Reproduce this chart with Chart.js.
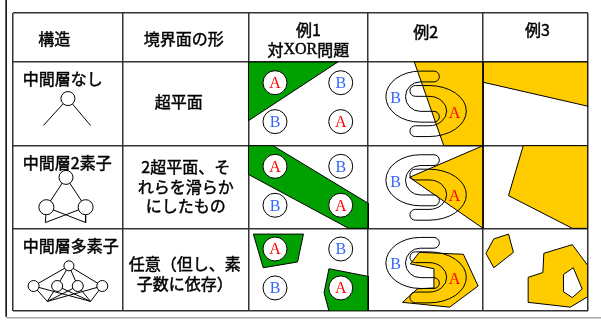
<!DOCTYPE html>
<html>
<head>
<meta charset="utf-8">
<script src="https://cdn.jsdelivr.net/npm/chart.js@4.4.1/dist/chart.umd.min.js"></script>
<style>
  html, body { margin: 0; padding: 0; background: #fff; }
  #wrap { width: 601px; height: 324px; }
</style>
</head>
<body>
<div id="wrap"><canvas id="chart" width="601" height="324"></canvas></div>
<script>
// table grid (column / row edges)
const colEdges = [8, 120, 248, 370, 487, 594];
const rowEdges = [5, 56, 143, 229, 315];

// texts
const headers = [['構造'], ['境界面の形'], ['例1', '対XOR問題'], ['例2'], ['例3']];
const structures = ['中間層なし', '中間層2素子', '中間層多素子'];
const boundaries = [['超平面'], ['2超平面、そ', 'れらを滑らか', 'にしたもの'], ['任意（但し、素', '子数に依存）']];

// XOR samples (same in each row, cell-local)
const xorLabels = ['A', 'B', 'B', 'A'];
const xorX = [27, 94, 27, 94];
const xorY = [21.5, 21.5, 62, 62];

// networks: output node, hidden nodes, input ends (cell-local, [x, y, r])
const netOutput = [[56, 38, 7], [54, 33, 7], [57, 39, 5]];
const netHidden = [[], [[34, 64, 7.5], [74, 64, 7.5]], [[21, 60, 5.5], [45, 60, 5.5], [66, 60, 5.5], [91, 60, 5.5]]];
const netInputs = [[[31, 66], [79, 66]], [[33, 80], [74, 80]], [[35, 76], [79, 76]]];

// decision regions (cell-local polygons)
const ex1Regions = [
  [[[0, 0], [91, 0], [0, 61]]],
  [[[0, 0], [25, 0], [122, 60], [122, 86], [102, 86], [0, 30]]],
  [[[5, 6], [56, 6], [50, 35], [15, 41]], [[82, 42], [122, 50], [122, 86], [82, 86], [77, 67]]]
];
const ex2Regions = [
  [[[47, 0], [117, 0], [117, 87], [77, 87]]],
  [[[42, 33], [117, 0], [117, 86]]],
  [[[43, 37], [52, 25], [97, 27], [112, 60], [83, 82], [35, 77], [50, 63], [67, 62], [67, 42]]]
];
const ex3Regions = [
  [[[0, 0], [107, 0], [107, 46], [0, 21]]],
  [[[41, 0], [107, 0], [107, 86], [91, 86], [26, 52]]],
  [[[3, 26], [11, 11], [26, 6], [31, 25], [11, 41]], [[46, 51], [61, 46], [62, 26], [91, 17], [107, 39], [107, 71], [89, 82], [46, 77]]]
];
const ex3Holes = [[], [], [[[82, 48], [92, 41], [101, 63], [91, 72], [82, 66]]]];

// horseshoe classes in 例2 (cell-local): B opens right, A opens left
const shoeLabels = ['B', 'A'];
const shoeCx = [53, 62];
const shoeCy = [36, 51];
const shoeOuter = [[35, 26], [38, 26]];
const shoeInner = [[15, 15], [18, 15]];
const shoeArm = [14, 14];
const shoeDir = [1, -1];
const shoeLabelX = [28, 88];
const shoeLabelY = [37, 52];

const GREEN = '#00a000';
const YELLOW = '#ffcc00';
const RED = '#ff0000';
const BLUE = '#3366ff';
const JP = '"Noto Sans CJK JP", "Noto Sans", sans-serif';
const SERIF = '"Liberation Serif", "DejaVu Serif", serif';

const datasets = [];

function addPolygon(points, col, row, color, order) {
  const ox = colEdges[col], oy = rowEdges[row + 1];
  const data = points.map(p => ({ x: ox + p[0], y: oy + p[1] }));
  data.push(data[0]);
  datasets.push({
    type: 'line', data, fill: 'shape', backgroundColor: color,
    borderColor: '#000', borderWidth: 1, pointRadius: 0, tension: 0, order
  });
}

function addEdge(a, b, col, row) {
  const ox = colEdges[col], oy = rowEdges[row + 1];
  datasets.push({
    type: 'line',
    data: [{ x: ox + a[0], y: oy + a[1] }, { x: ox + b[0], y: oy + b[1] }],
    borderColor: '#000', borderWidth: 1, pointRadius: 0, fill: false, order: 3
  });
}

for (let r = 0; r < 3; r++) {
  ex1Regions[r].forEach(p => addPolygon(p, 2, r, GREEN, 6));
  ex2Regions[r].forEach(p => addPolygon(p, 3, r, YELLOW, 6));
  ex3Regions[r].forEach(p => addPolygon(p, 4, r, YELLOW, 6));
  ex3Holes[r].forEach(p => addPolygon(p, 4, r, '#fff', 5));

  // network edges
  const out = netOutput[r];
  if (netHidden[r].length === 0) {
    netInputs[r].forEach(inp => addEdge(out, inp, 0, r));
  } else {
    netHidden[r].forEach(h => {
      addEdge(out, h, 0, r);
      netInputs[r].forEach(inp => addEdge(h, inp, 0, r));
    });
  }
}

// network nodes
const nodePts = [];
for (let r = 0; r < 3; r++) {
  const ox = colEdges[0], oy = rowEdges[r + 1];
  [netOutput[r], ...netHidden[r]].forEach(n => nodePts.push({ x: ox + n[0], y: oy + n[1], r: n[2] }));
}
datasets.push({
  type: 'scatter', data: nodePts,
  pointRadius: c => c.raw ? c.raw.r : 5,
  pointBackgroundColor: '#fff', pointBorderColor: '#000', pointBorderWidth: 1, order: 2
});

// XOR sample circles
const xorPts = [];
for (let r = 0; r < 3; r++) {
  for (let i = 0; i < 4; i++) {
    xorPts.push({ x: colEdges[2] + xorX[i], y: rowEdges[r + 1] + xorY[i], label: xorLabels[i] });
  }
}
datasets.push({
  type: 'scatter', data: xorPts, pointRadius: 12,
  pointBackgroundColor: '#fff', pointBorderColor: '#000', pointBorderWidth: 1, order: 1
});
const xorIndex = datasets.length - 1;

// slightly heavier than regular: fill plus a thin outline
function drawRuns(ctx, runs, cx, cy) {
  let total = 0;
  runs.forEach(r => { ctx.font = r[1]; total += ctx.measureText(r[0]).width; });
  let x = cx - total / 2;
  ctx.textAlign = 'left';
  ctx.strokeStyle = '#000';
  ctx.lineWidth = 0.45;
  runs.forEach(r => {
    ctx.font = r[1];
    ctx.fillText(r[0], x, cy);
    ctx.strokeText(r[0], x, cy);
    x += ctx.measureText(r[0]).width;
  });
}

function drawLetter(ctx, ch, px, py) {
  ctx.font = '16px ' + SERIF;
  ctx.fillStyle = ch === 'A' ? RED : BLUE;
  ctx.textAlign = 'center';
  ctx.textBaseline = 'alphabetic';
  ctx.fillText(ch, px, py + 5.5);
}

const tablePlugin = {
  id: 'table',
  afterDatasetsDraw(chart) {
    const { ctx, scales: { x, y } } = chart;
    const k = x.getPixelForValue(1) - x.getPixelForValue(0);

    // horseshoe outlines
    for (let r = 0; r < 3; r++) {
      for (let s = 0; s < 2; s++) {
        const px = x.getPixelForValue(colEdges[3] + shoeCx[s]);
        const py = y.getPixelForValue(rowEdges[r + 1] + shoeCy[s]);
        const [rxo, ryo] = shoeOuter[s];
        const [rxi, ryi] = shoeInner[s];
        const arm = shoeArm[s];
        const t = (ryo - ryi) / 2, m = (ryo + ryi) / 2;
        ctx.save();
        ctx.translate(px, py);
        ctx.scale(shoeDir[s] * k, k);
        ctx.beginPath();
        ctx.moveTo(arm, -ryo);
        ctx.lineTo(0, -ryo);
        ctx.ellipse(0, 0, rxo, ryo, 0, -Math.PI / 2, Math.PI / 2, true);
        ctx.lineTo(arm, ryo);
        ctx.arc(arm, m, t, Math.PI / 2, -Math.PI / 2, true);
        ctx.lineTo(0, ryi);
        ctx.ellipse(0, 0, rxi, ryi, 0, Math.PI / 2, -Math.PI / 2, false);
        ctx.lineTo(arm, -ryi);
        ctx.arc(arm, -m, t, Math.PI / 2, -Math.PI / 2, true);
        ctx.closePath();
        ctx.restore();
        ctx.strokeStyle = '#000';
        ctx.lineWidth = 1;
        ctx.stroke();

        drawLetter(ctx, shoeLabels[s],
          x.getPixelForValue(colEdges[3] + shoeLabelX[s]),
          y.getPixelForValue(rowEdges[r + 1] + shoeLabelY[s]));
      }
    }

    // letters in XOR circles
    chart.getDatasetMeta(xorIndex).data.forEach((pt, i) => {
      drawLetter(ctx, xorPts[i].label, pt.x, pt.y);
    });
  },
  afterDraw(chart) {
    const { ctx, scales: { x, y } } = chart;
    ctx.save();
    ctx.fillStyle = '#000';
    ctx.textBaseline = 'middle';
    const font = '16px ' + JP;

    // header row
    const hdx = [-14, -2, 0, 0, 2];
    const hy = [[27], [27], [18, 38], [20], [18]];
    headers.forEach((lines, c) => {
      const cx = x.getPixelForValue((colEdges[c] + colEdges[c + 1]) / 2 + hdx[c]);
      lines.forEach((txt, i) => {
        const cy = y.getPixelForValue(rowEdges[0] + hy[c][i]);
        if (txt.indexOf('XOR') >= 0) {
          drawRuns(ctx, [['対', font], ['XOR', '16px ' + SERIF], ['問題', font]], cx, cy);
        } else {
          drawRuns(ctx, [[txt, font]], cx, cy);
        }
      });
    });

    // structure names
    structures.forEach((txt, r) => {
      const w = (ctx.font = font, ctx.measureText(txt).width);
      drawRuns(ctx, [[txt, font]], x.getPixelForValue(colEdges[0] + 10) + w / 2, y.getPixelForValue(rowEdges[r + 1] + 18));
    });

    // boundary shapes
    const bdx = [-7, 0, -1];
    const by0 = [42, 22, 37];
    boundaries.forEach((lines, r) => {
      const cx = x.getPixelForValue((colEdges[1] + colEdges[2]) / 2 + bdx[r]);
      lines.forEach((txt, i) => {
        drawRuns(ctx, [[txt, font]], cx, y.getPixelForValue(rowEdges[r + 1] + by0[r] + i * 20.5));
      });
    });

    // outer frame of the slide
    ctx.strokeStyle = '#000';
    ctx.lineWidth = 1.5;
    ctx.beginPath();
    ctx.moveTo(x.getPixelForValue(1), 0);
    ctx.lineTo(x.getPixelForValue(1), y.getPixelForValue(321));
    ctx.stroke();
    ctx.strokeStyle = '#aaa';
    ctx.beginPath();
    ctx.moveTo(x.getPixelForValue(1), y.getPixelForValue(322));
    ctx.lineTo(601, y.getPixelForValue(322));
    ctx.stroke();
    ctx.restore();
  }
};

const gridOpts = { color: '#333', lineWidth: 1.5, drawTicks: false };

new Chart(document.getElementById('chart'), {
  type: 'scatter',
  data: { datasets },
  options: {
    responsive: false,
    animation: false,
    devicePixelRatio: 1,
    events: [],
    layout: { padding: { left: 8, top: 5, right: 7, bottom: 9 } },
    plugins: { legend: { display: false }, tooltip: { enabled: false } },
    scales: {
      x: {
        type: 'linear', min: colEdges[0], max: colEdges[colEdges.length - 1],
        grid: gridOpts, border: { display: false }, ticks: { display: false }, z: 1,
        afterBuildTicks: axis => { axis.ticks = colEdges.map(v => ({ value: v })); }
      },
      y: {
        type: 'linear', reverse: true, min: rowEdges[0], max: rowEdges[rowEdges.length - 1],
        grid: gridOpts, border: { display: false }, ticks: { display: false }, z: 1,
        afterBuildTicks: axis => { axis.ticks = rowEdges.map(v => ({ value: v })); }
      }
    }
  },
  plugins: [tablePlugin]
});
</script>
</body>
</html>
